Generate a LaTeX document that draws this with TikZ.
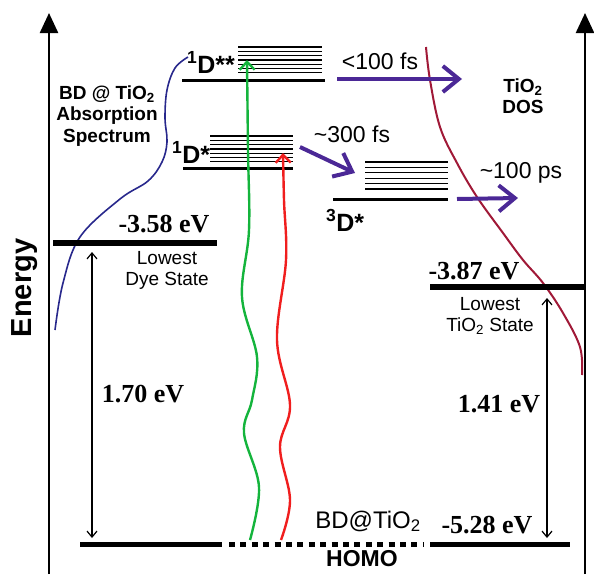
\documentclass[tikz,border=0pt]{standalone}
\usepackage{fontspec}
\setmainfont{Liberation Serif}
\newfontfamily\lsans{Liberation Sans}
\usetikzlibrary{arrows.meta}

\definecolor{dyeblue}{RGB}{40,40,140}
\definecolor{dosred}{RGB}{160,25,55}
\definecolor{hopviolet}{RGB}{75,40,150}
\definecolor{pumpgreen}{RGB}{20,180,60}
\definecolor{pumpred}{RGB}{240,30,30}

\begin{document}
\begin{tikzpicture}[x=1pt,y=-1pt,
    axis/.style={line width=2.4pt,-{Triangle[length=20pt,width=18pt]}},
    level/.style={line width=5.5pt},
    homo/.style={line width=5pt},
    base/.style={line width=3pt},
    sub/.style={line width=1.3pt},
    gap/.style={line width=1.2pt,{Straight Barb[length=6pt,width=10pt]}-{Straight Barb[length=6pt,width=10pt]}},
    hop/.style={hopviolet,line width=4pt,-{Straight Barb[length=16pt,width=26pt]}},
    pump/.style={line width=2.4pt,-{Straight Barb[length=8pt,width=15pt]}},
    ev/.style={font=\bfseries\fontsize{26}{28}\selectfont,anchor=base},
    lab/.style={font=\lsans\fontsize{19}{21}\selectfont,align=center},
    blab/.style={font=\lsans\bfseries\fontsize{19}{21.5}\selectfont,align=center},
    state/.style={font=\lsans\bfseries\fontsize{25}{28}\selectfont,anchor=base west,inner sep=0pt},
    time/.style={font=\lsans\fontsize{23}{25}\selectfont,anchor=base}]
  \useasboundingbox (0,0) rectangle (594,574);

  % energy axes
  \coordinate (axL0) at (49,574);
  \coordinate (axL1) at (49,13);
  \coordinate (axR0) at (585,574);
  \coordinate (axR1) at (585,13);
  \draw[axis] (axL0) -- (axL1);
  \draw[axis] (axR0) -- (axR1);
  \node[rotate=90,font=\lsans\bfseries\fontsize{29}{30}\selectfont] (energy) at (25,288) {Energy};

  % absorption spectrum and TiO2 density of states
  \draw[dyeblue,line width=1.6pt] plot[smooth,tension=0.6] coordinates
    {(188,57) (175,68) (167,90) (165,118) (167,142) (162,162) (148,181) (120,199) (80,237) (63,283) (55,330)};
  \draw[dosred,line width=2pt] plot[smooth,tension=0.6] coordinates
    {(426,47) (430,80) (440,127) (457,163) (477,197) (503,233) (523,260) (543,283) (563,313) (580,347) (582,375)};

  % singlet and triplet manifolds
  \draw[base] (182,80) -- (325,80);
  \foreach \i in {0,...,6}
    \draw[sub] (238,{47+4.3*\i}) -- (322,{47+4.3*\i});
  \draw[base] (183,168) -- (293,168);
  \foreach \i in {0,...,6}
    \draw[sub] (210,{136+4.3*\i}) -- (293,{136+4.3*\i});
  \draw[base] (333,199) -- (448,199);
  \foreach \i in {0,...,5}
    \draw[sub] (365,{162+5.4*\i}) -- (448,{162+5.4*\i});
  \node[state] (dss) at (187,73) {\textsuperscript{1}D**};
  \node[state] (ds) at (172,163) {\textsuperscript{1}D*};
  \node[state] (dt) at (326,231) {\textsuperscript{3}D*};

  % lowest states and HOMO
  \draw[level] (53,243) -- (217,243);
  \draw[level] (430,287) -- (585,287);
  \draw[homo] (80,544) -- (222,544);
  \draw[homo,dash pattern=on 6pt off 5.4pt] (229,544) -- (424,544);
  \draw[homo] (430,544) -- (570,544);

  % excitation
  \coordinate (gFoot) at (250,540);
  \coordinate (rFoot) at (281,540);
  \draw[pumpgreen,pump] plot[smooth,tension=0.6] coordinates
    {(gFoot) (259,487) (244,433) (252,400) (257,357) (242,297) (249,230) (248,150) (247,60)};
  \draw[pumpred,pump] plot[smooth,tension=0.6] coordinates
    {(rFoot) (290,500) (280,447) (290,405) (277,340) (286,260) (284,200) (283,153)};

  % electron transfer and intersystem crossing
  \coordinate (h1a) at (337,79);
  \coordinate (h1b) at (462,79);
  \coordinate (h2a) at (300,147);
  \coordinate (h2b) at (355,173);
  \coordinate (h3a) at (457,199);
  \coordinate (h3b) at (518,198);
  \draw[hop] (h1a) -- (h1b);
  \draw[hop] (h2a) -- (h2b);
  \draw[hop] (h3a) -- (h3b);
  \node[time] (t1) at (380,69) {<100 fs};
  \node[time] (t2) at (352,142) {\textasciitilde300 fs};
  \node[time] (t3) at (521,178) {\textasciitilde100 ps};

  % band gaps
  \coordinate (gL0) at (92,252);
  \coordinate (gL1) at (92,538);
  \coordinate (gR0) at (547,298);
  \coordinate (gR1) at (547,538);
  \draw[gap] (gL0) -- (gL1);
  \draw[gap] (gR0) -- (gR1);

  % labels
  \node[blab] (spec) at (107,116) {BD @ TiO\textsubscript{2}\\Absorption\\Spectrum};
  \node[blab] (dos) at (523,96) {TiO\textsubscript{2}\\DOS};
  \node[ev] (e1) at (164,232) {-3.58 eV};
  \node[lab] (low1) at (167,270) {Lowest\\Dye State};
  \node[ev] (e2) at (474,279) {-3.87 eV};
  \node[lab] (low2) at (490,316) {Lowest\\TiO\textsubscript{2} State};
  \node[ev] (g1) at (143,402) {1.70 eV};
  \node[ev] (g2) at (499,412) {1.41 eV};
  \node[ev] (e3) at (487,533) {-5.28 eV};
  \node[font=\lsans\fontsize{24}{26}\selectfont,anchor=base] (bd) at (368,528) {BD@TiO\textsubscript{2}};
  \node[font=\lsans\bfseries\fontsize{23}{25}\selectfont,anchor=base] (homo) at (362,566) {HOMO};
\end{tikzpicture}
\end{document}
